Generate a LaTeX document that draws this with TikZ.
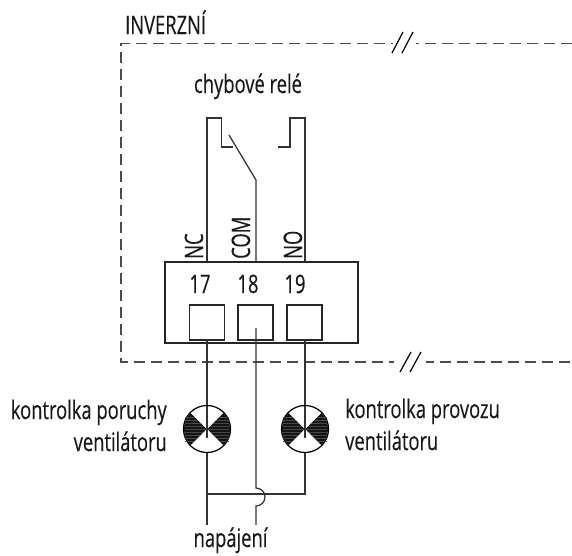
\documentclass[tikz,border=0pt]{standalone}
\usepackage{fontspec}
\setmainfont[FakeStretch=0.72,FakeBold=0.25]{Open Sans}
\begin{document}
\begin{tikzpicture}[x=1pt,y=-1pt,
  wire/.style={line width=1.25pt,black!80,line cap=butt},
  frame/.style={line width=1.3pt,black!70,dash pattern=on 11.5pt off 5.5pt},
  slash/.style={line width=1.2pt,black},
  term/.style={draw=black!85,line width=1.25pt,minimum width=35pt,minimum height=35pt,inner sep=0pt},
  panel/.style={draw=black!85,line width=1.25pt,minimum width=193pt,minimum height=81pt,inner sep=0pt},
  lamp/.style={circle,draw=black,line width=1.25pt,minimum size=47pt,inner sep=0pt},
  txt/.style={inner sep=0pt,font=\fontsize{25.5}{28}\selectfont,text=black!90},
  wedge/.style={fill=black!92}]
\useasboundingbox (0,0) rectangle (572,555);
\fill[white] (0,0) rectangle (572,555);
% frame
\coordinate (fr) at (572,362);
\coordinate (fb) at (121,362);
\coordinate (ft) at (121,43.5);
\coordinate (fe) at (572,43.5);
\draw[frame] (fe) -- (ft) -- (fb) -- (fr);
\fill[white] (393,38) rectangle (416,49);
\fill[white] (394,357) rectangle (426,367);
\draw[slash] (392,53) -- (403,32);
\draw[slash] (402,53) -- (413,32);
\draw[slash] (400,372) -- (411,352);
\draw[slash] (410,372) -- (421,352);
% panel and terminals
\node[panel] (box) at (261.5,302.5) {};
\node[term] (t17) at (206.8,322.5) {};
\node[term] (t18) at (255.5,322.5) {};
\node[term] (t19) at (304.5,322.5) {};
\node[txt,anchor=base] (n17) at (200,293) {17};
\node[txt,anchor=base] (n18) at (248,293) {18};
\node[txt,anchor=base] (n19) at (295,293) {19};
\node[txt,rotate=90,anchor=base west] (nc) at (203,259) {NC};
\node[txt,rotate=90,anchor=base west] (com) at (250,259) {COM};
\node[txt,rotate=90,anchor=base west] (no) at (302,259) {NO};
% lamps
\node[lamp] (l1) at (207,429) {};
\node[lamp] (l2) at (305,429) {};
\foreach \c in {l1,l2}{
  \begin{scope}[shift={(\c.center)}]
    \fill[wedge] (0,0) -- (135:23) arc (135:225:23) -- cycle;
    \fill[wedge] (0,0) -- (45:23) arc (45:-45:23) -- cycle;
    \foreach \d in {-12,-9,...,12}{
      \draw[black!72,line width=0.1pt] (-22,\d) -- (22,\d);
    }
    \fill[white] (0,0) -- (45:22.4) arc (45:135:22.4) -- cycle;
    \fill[white] (0,0) -- (225:22.4) arc (225:315:22.4) -- cycle;
  \end{scope}
}
% relay
\coordinate (nct) at (207,118);
\coordinate (ncj) at (221.5,118);
\coordinate (ncb) at (221.5,147);
\coordinate (nce) at (233,147);
\coordinate (armt) at (229,135);
\coordinate (armb) at (256,180);
\coordinate (not) at (305,118);
\coordinate (noj) at (290,118);
\coordinate (nob) at (290,147);
\coordinate (noe) at (278,147);
\draw[wire] (box.north -| l1) |- (nct) -- (ncj) -- (ncb) -- (nce);
\draw[wire] (box.north -| l2) -- (not) -- (noj) -- (nob) -- (noe);
\draw[wire] (armt) -- (armb) -- (armb |- box.north);
% lower wiring
\coordinate (b1) at (207,525);
\coordinate (b2) at (256,525);
\coordinate (jn) at (207,494);
\coordinate (jr) at (305,494);
\coordinate (arca) at (256,488);
\coordinate (t18c) at (256,328);
\draw[wire] (t17.south -| l1) -- (l1.north);
\draw[wire] (l1.center) -- ++(0,-23);
\draw[wire] (l1.center) -- ++(0,9);
\draw[wire] (l1.south) -- (b1);
\draw[wire] (t19.south -| l2) -- (l2.north);
\draw[wire] (l2.center) -- ++(0,-23);
\draw[wire] (l2.center) -- ++(0,9);
\draw[wire] (l2.south) -- (jr) -- (jn);
\draw[wire] (t18c) -- (arca) arc (-90:90:9) -- (b2);
% labels
\node[txt,anchor=base west] (inv) at (125,34) {INVERZNÍ};
\node[txt,anchor=base] (rel) at (248,93) {chybové relé};
\node[txt,anchor=base east] (kp) at (167,419) {kontrolka poruchy};
\node[txt,anchor=base east] (kv1) at (167,451) {ventilátoru};
\node[txt,anchor=base west] (kz) at (345,418) {kontrolka provozu};
\node[txt,anchor=base west] (kv2) at (345,450) {ventilátoru};
\node[txt,anchor=base] (nap) at (230.5,547) {napájení};
\end{tikzpicture}
\end{document}
